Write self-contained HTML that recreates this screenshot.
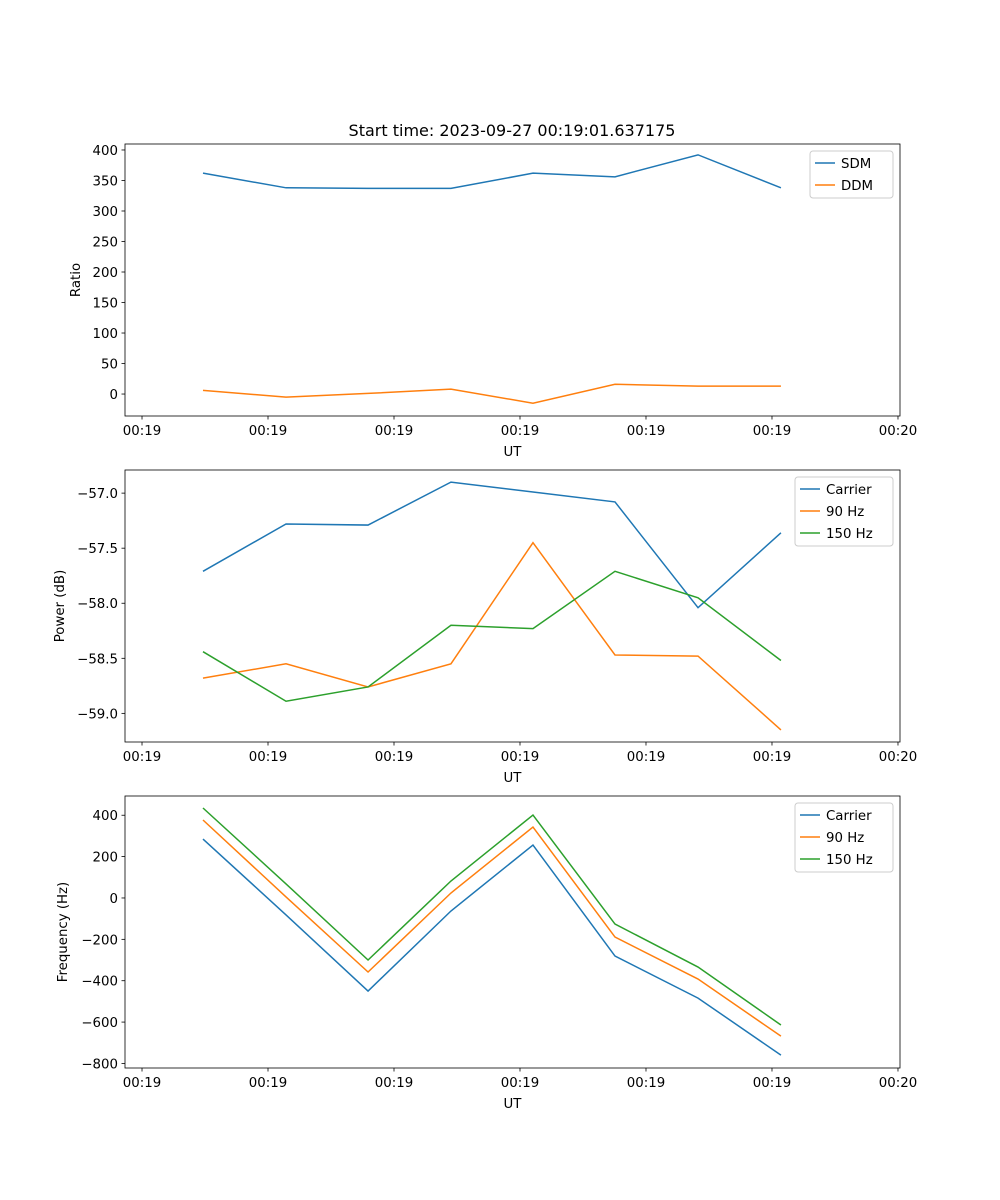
<!DOCTYPE html>
<html><head><meta charset="utf-8"><style>
body{margin:0;background:#fff}
svg{display:block;font-family:"DejaVu Sans","Liberation Sans",sans-serif}
</style></head><body>
<svg id="fig" width="1000" height="1200" viewBox="0 0 1000 1200"></svg>
<script>
const times=[4.84,11.43,17.94,24.52,31.03,37.54,44.13,50.71];
const xTickVals=[0,10,20,30,40,50,60];
const xTickLabels=["00:19","00:19","00:19","00:19","00:19","00:19","00:20"];
const sdm=[362,338,337,337,362,356,392,338];
const ddm=[6,-5,1,8,-15,16,13,13];
const pwrCarrier=[-57.71,-57.28,-57.29,-56.90,-56.99,-57.08,-58.04,-57.36];
const pwr90=[-58.68,-58.55,-58.76,-58.55,-57.45,-58.47,-58.48,-59.15];
const pwr150=[-58.44,-58.89,-58.76,-58.20,-58.23,-57.71,-57.95,-58.52];
const frqCarrier=[285,-82,-450,-63,256,-281,-484,-760];
const frq90=[377,5,-358,24,343,-189,-392,-668];
const frq150=[435,68,-300,82,401,-126,-334,-614];
const ticks1=[0,50,100,150,200,250,300,350,400];
const ticks2=[-57.0,-57.5,-58.0,-58.5,-59.0];
const ticks3=[400,200,0,-200,-400,-600,-800];

const NS="http://www.w3.org/2000/svg";
const svg=document.getElementById('fig');
function mk(tag,attrs,parent,text){const e=document.createElementNS(NS,tag);for(const k in attrs)e.setAttribute(k,attrs[k]);if(text!==undefined)e.textContent=text;(parent||svg).appendChild(e);return e;}
const L=125,R=900;
const xMin=-1.35,xMax=60.16;
const X=v=>L+(v-xMin)/(xMax-xMin)*(R-L);
const C={b:"#1f77b4",o:"#ff7f0e",g:"#2ca02c"};
const FS=13.33;

function panel(name,top,bot,yMin,yMax,yTicks,fmt,ylabel,series,legend){
  const g=mk('g',{});
  
  
  const Y=v=>bot-(v-yMin)/(yMax-yMin)*(bot-top);
  series.forEach(s=>{
    const p=mk('polyline',{points:times.map((t,i)=>X(t)+','+Y(s.d[i])).join(' '),fill:'none',stroke:s.c,'stroke-width':1.5},g);
    
    
  });
  const fr=mk('rect',{x:L,y:top,width:R-L,height:bot-top,fill:'none',stroke:'#000','stroke-width':0.8},g);
  
  
  xTickVals.forEach((v,i)=>{
    const x=X(v);
    mk('line',{x1:x,x2:x,y1:bot,y2:bot+3.5,stroke:'#000','stroke-width':0.8},g);
    const t=mk('text',{x:x,y:bot+19,'font-size':FS,'text-anchor':'middle'},g,xTickLabels[i]);
    
    
  });
  const xl=mk('text',{x:(L+R)/2,y:bot+40,'font-size':FS,'text-anchor':'middle'},g,'UT');
  
  
  yTicks.forEach(v=>{
    const y=Y(v);
    mk('line',{x1:L-3.5,x2:L,y1:y,y2:y,stroke:'#000','stroke-width':0.8},g);
    const t=mk('text',{x:L-7,y:y+5,'font-size':FS,'text-anchor':'end'},g,fmt(v));
    
    
  });
  const yl=mk('text',{x:0,y:0,'font-size':FS,'text-anchor':'middle',transform:`translate(${legend.yl},${(top+bot)/2}) rotate(-90)`},g,ylabel);
  
  
  const lg=mk('g',{},g);
  
  
  mk('rect',{x:legend.x,y:top+7,width:R-7-legend.x,height:series.length*22+3,rx:3,fill:'#fff','fill-opacity':0.8,stroke:'#ccc'},lg);
  series.forEach((s,i)=>{
    const yy=top+19+i*22;
    mk('line',{x1:legend.x+5,x2:legend.x+25,y1:yy,y2:yy,stroke:s.c,'stroke-width':1.5},lg);
    const t=mk('text',{x:legend.x+31,y:yy+5,'font-size':FS},lg,s.label);
    
    
  });
}
const minus=s=>s.replace('-','\u2212');
const title=mk('text',{x:512,y:136,'font-size':16,'text-anchor':'middle'},svg,'Start time: 2023-09-27 00:19:01.637175');


panel('ratio-panel',144,416,-36,409.8,ticks1,v=>minus(String(v)),'Ratio',
  [{n:'sdm-line',d:sdm,c:C.b,label:'SDM'},{n:'ddm-line',d:ddm,c:C.o,label:'DDM'}],{x:810,yl:80});
panel('power-panel',470,742,-59.26,-56.79,ticks2,v=>minus(v.toFixed(1)),'Power (dB)',
  [{n:'carrier-power-line',d:pwrCarrier,c:C.b,label:'Carrier'},{n:'90hz-power-line',d:pwr90,c:C.o,label:'90 Hz'},{n:'150hz-power-line',d:pwr150,c:C.g,label:'150 Hz'}],{x:795,yl:64});
panel('frequency-panel',796,1068,-822,493,ticks3,v=>minus(String(v)),'Frequency (Hz)',
  [{n:'carrier-freq-line',d:frqCarrier,c:C.b,label:'Carrier'},{n:'90hz-freq-line',d:frq90,c:C.o,label:'90 Hz'},{n:'150hz-freq-line',d:frq150,c:C.g,label:'150 Hz'}],{x:795,yl:67});
</script>
</body></html>
